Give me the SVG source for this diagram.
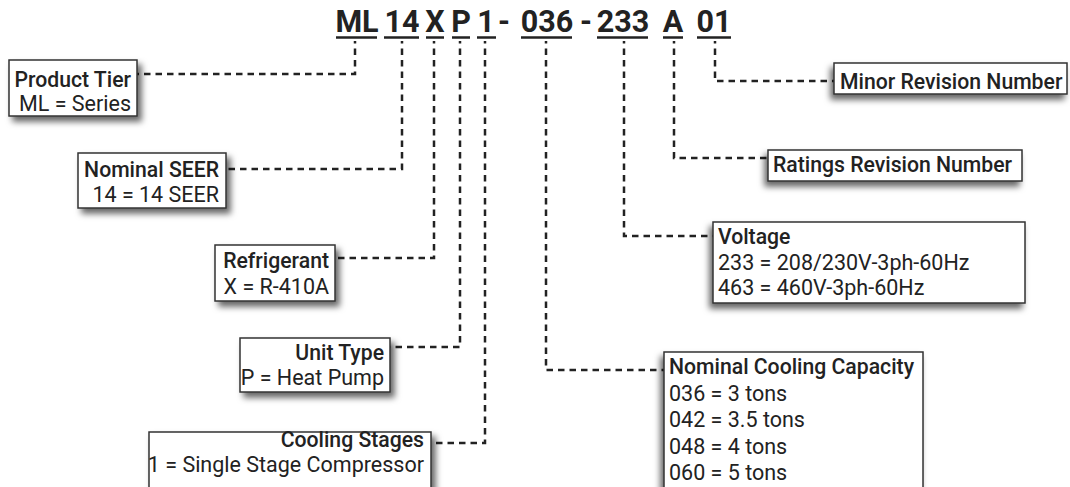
<svg xmlns="http://www.w3.org/2000/svg" width="1070" height="487" viewBox="0 0 1070 487">
  <defs>
    <filter id="shR" x="-20%" y="-30%" width="150%" height="180%">
      <feDropShadow dx="4" dy="5" stdDeviation="3" flood-color="#000" flood-opacity="0.6"/>
    </filter>
    <filter id="shL" x="-20%" y="-30%" width="150%" height="180%">
      <feDropShadow dx="-3" dy="5" stdDeviation="3" flood-color="#000" flood-opacity="0.6"/>
    </filter>
    <style>
      .box { fill: #fff; stroke: #333; stroke-width: 1.5; }
      .t { font-family: Roboto, "Liberation Sans", sans-serif; font-size: 21.5px; fill: #222; }
      .h { font-size: 21.2px; font-weight: 500; }
      .end { text-anchor: end; }
      .code { font-family: Roboto, "Liberation Sans", sans-serif; font-size: 30.5px; font-weight: 700; fill: #222; text-anchor: middle; }
      .ul { stroke: #222; stroke-width: 2.5; }
      .con { fill: none; stroke: #222; stroke-width: 2.5; stroke-dasharray: 6.5 5; stroke-dashoffset: 4; }
    </style>
  </defs>

  <g id="code">
    <text class="code" x="357" y="32">ML</text>
    <text class="code" x="402" y="32">14</text>
    <text class="code" x="435" y="32">X</text>
    <text class="code" x="461" y="32">P</text>
    <text class="code" x="486" y="32">1</text>
    <text class="code" x="504" y="32">-</text>
    <text class="code" x="547" y="32">036</text>
    <text class="code" x="586" y="32">-</text>
    <text class="code" x="623" y="32">233</text>
    <text class="code" x="673" y="32">A</text>
    <text class="code" x="714" y="32">01</text>
    <line class="ul" x1="336" y1="37.5" x2="377" y2="37.5"/>
    <line class="ul" x1="384" y1="37.5" x2="419" y2="37.5"/>
    <line class="ul" x1="426" y1="37.5" x2="444" y2="37.5"/>
    <line class="ul" x1="452" y1="37.5" x2="470" y2="37.5"/>
    <line class="ul" x1="477" y1="37.5" x2="496" y2="37.5"/>
    <line class="ul" x1="521" y1="37.5" x2="572" y2="37.5"/>
    <line class="ul" x1="597" y1="37.5" x2="648" y2="37.5"/>
    <line class="ul" x1="663" y1="37.5" x2="683" y2="37.5"/>
    <line class="ul" x1="697" y1="37.5" x2="731" y2="37.5"/>
  </g>

  <g id="connectors">
    <path class="con" d="M355 41 V74 H137"/>
    <path class="con" d="M402 41 V169 H226"/>
    <path class="con" d="M434 41 V258 H335"/>
    <path class="con" d="M460 41 V347 H390"/>
    <path class="con" d="M485 41 V443 H431"/>
    <path class="con" d="M546 41 V370 H664"/>
    <path class="con" d="M624 41 V236 H713"/>
    <path class="con" d="M674 41 V158 H768"/>
    <path class="con" d="M715 41 V81 H834"/>
  </g>

  <g id="product-tier">
    <rect class="box" x="9" y="60" width="128" height="56" filter="url(#shR)"/>
    <text class="t h end" x="131" y="87">Product Tier</text>
    <text class="t end" x="131" y="111">ML = Series</text>
  </g>

  <g id="nominal-seer">
    <rect class="box" x="78" y="153" width="148" height="55" filter="url(#shR)"/>
    <text class="t h end" x="219" y="177">Nominal SEER</text>
    <text class="t end" x="219" y="202">14 = 14 SEER</text>
  </g>

  <g id="refrigerant">
    <rect class="box" x="215" y="245" width="120" height="56" filter="url(#shR)"/>
    <text class="t h end" x="329" y="268">Refrigerant</text>
    <text class="t end" x="329" y="294">X = R-410A</text>
  </g>

  <g id="unit-type">
    <rect class="box" x="240" y="338" width="150" height="54" filter="url(#shR)"/>
    <text class="t h end" x="384" y="360">Unit Type</text>
    <text class="t end" x="384" y="385">P = Heat Pump</text>
  </g>

  <g id="cooling-stages">
    <rect class="box" x="149" y="432" width="282" height="70" filter="url(#shR)"/>
    <text class="t h end" x="424" y="447">Cooling Stages</text>
    <text class="t end" x="424" y="472">1 = Single Stage Compressor</text>
  </g>

  <g id="minor-revision">
    <rect class="box" x="834" y="63" width="233" height="31" filter="url(#shL)"/>
    <text class="t h" x="840" y="89">Minor Revision Number</text>
  </g>

  <g id="ratings-revision">
    <rect class="box" x="768" y="150" width="254" height="31" filter="url(#shL)"/>
    <text class="t h" x="773" y="172">Ratings Revision Number</text>
  </g>

  <g id="voltage">
    <rect class="box" x="713" y="222" width="312" height="81" filter="url(#shL)"/>
    <text class="t h" x="718" y="244">Voltage</text>
    <text class="t" x="718" y="270">233 = 208/230V-3ph-60Hz</text>
    <text class="t" x="718" y="295">463 = 460V-3ph-60Hz</text>
  </g>

  <g id="nominal-cooling-capacity">
    <rect class="box" x="664" y="352" width="259" height="150" filter="url(#shL)"/>
    <text class="t h" x="669" y="374">Nominal Cooling Capacity</text>
    <text class="t" x="669" y="401">036 = 3 tons</text>
    <text class="t" x="669" y="427">042 = 3.5 tons</text>
    <text class="t" x="669" y="454">048 = 4 tons</text>
    <text class="t" x="669" y="480">060 = 5 tons</text>
  </g>
</svg>
